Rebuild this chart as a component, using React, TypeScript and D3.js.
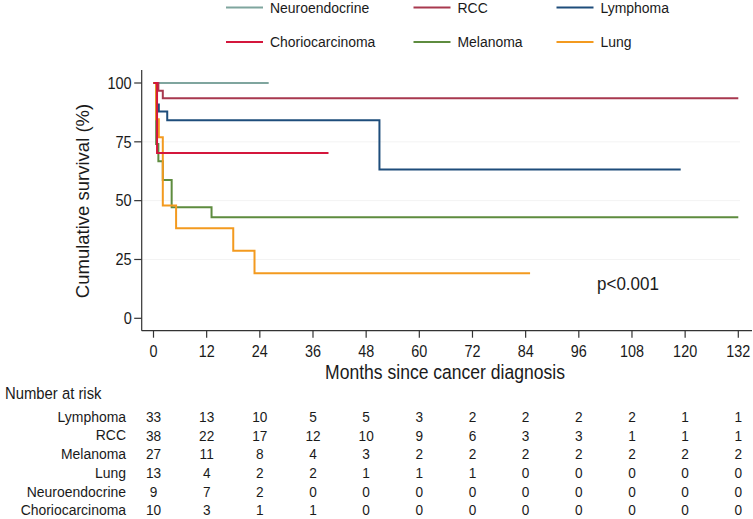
import React from "react";
import * as d3 from "d3";

const monthTicks = [0, 12, 24, 36, 48, 60, 72, 84, 96, 108, 120, 132];
const yTicks = [0, 25, 50, 75, 100];

const seriesNames = ["Neuroendocrine", "RCC", "Lymphoma", "Choriocarcinoma", "Melanoma", "Lung"];
const seriesColors = ["#7fa59e", "#a8384f", "#1e4d7b", "#d4163c", "#5e8c3f", "#f39a1f"];

const neuroTimes = [0];
const neuroSurv = [100];
const neuroEnd = 26;

const rccTimes = [0, 1.1, 2.1];
const rccSurv = [100, 96.7, 93.5];
const rccEnd = 132;

const lymphTimes = [0, 0.7, 1.2, 3.1, 51];
const lymphSurv = [100, 90.9, 87.9, 84.2, 63.2];
const lymphEnd = 119;

const chorioTimes = [0, 0.8];
const chorioSurv = [100, 70.2];
const chorioEnd = 39.5;

const melTimes = [0, 0.6, 1.1, 2.1, 4.1, 13.1];
const melSurv = [100, 74.1, 66.7, 58.8, 47.2, 42.9];
const melEnd = 132;

const lungTimes = [0, 0.6, 1.2, 2.1, 5.1, 18, 22.8];
const lungSurv = [100, 84.6, 76.9, 47.9, 38.3, 28.7, 19.1];
const lungEnd = 85;

const riskRows = ["Lymphoma", "RCC", "Melanoma", "Lung", "Neuroendocrine", "Choriocarcinoma"];
const riskLymphoma = [33, 13, 10, 5, 5, 3, 2, 2, 2, 2, 1, 1];
const riskRCC = [38, 22, 17, 12, 10, 9, 6, 3, 3, 1, 1, 1];
const riskMelanoma = [27, 11, 8, 4, 3, 2, 2, 2, 2, 2, 2, 2];
const riskLung = [13, 4, 2, 2, 1, 1, 1, 0, 0, 0, 0, 0];
const riskNeuro = [9, 7, 2, 0, 0, 0, 0, 0, 0, 0, 0, 0];
const riskChorio = [10, 3, 1, 1, 0, 0, 0, 0, 0, 0, 0, 0];

const FONT = "'Liberation Sans', Arial, Helvetica, sans-serif";
const TXT = "#1a1a1a";

export default function App() {
  const W = 753, H = 519;
  const x = d3.scaleLinear().domain([0, 132]).range([153.5, 738.3]);
  const y = d3.scaleLinear().domain([0, 100]).range([318.3, 83]);
  const axisX = 141.7;
  const axisY = 330.7;

  const curves = [
    { name: "Neuroendocrine", t: neuroTimes, s: neuroSurv, end: neuroEnd, c: seriesColors[0] },
    { name: "RCC", t: rccTimes, s: rccSurv, end: rccEnd, c: seriesColors[1] },
    { name: "Lymphoma", t: lymphTimes, s: lymphSurv, end: lymphEnd, c: seriesColors[2] },
    { name: "Melanoma", t: melTimes, s: melSurv, end: melEnd, c: seriesColors[4] },
    { name: "Lung", t: lungTimes, s: lungSurv, end: lungEnd, c: seriesColors[5] },
    { name: "Choriocarcinoma", t: chorioTimes, s: chorioSurv, end: chorioEnd, c: seriesColors[3] },
  ];

  const line = d3
    .line<[number, number]>()
    .x((d) => x(d[0]))
    .y((d) => y(d[1]))
    .curve(d3.curveStepAfter);

  const riskData = [riskLymphoma, riskRCC, riskMelanoma, riskLung, riskNeuro, riskChorio];

  const legendCols = [226, 413.5, 556.5];
  const legendRows = [7.5, 42];

  const sx = 0.88;
  const txt = (
    key: string,
    tx: number,
    ty: number,
    s: string,
    size: number,
    anchor: "start" | "middle" | "end",
    scale = sx
  ) => (
    <text
      key={key}
      transform={`translate(${tx},${ty}) scale(${scale},1)`}
      fontSize={size}
      textAnchor={anchor}
      dominantBaseline="central"
      fill={TXT}
      fontFamily={FONT}
    >
      {s}
    </text>
  );

  return (
    <svg
      width={W}
      height={H}
      style={{ position: "absolute", left: 0, top: 0, background: "#fff" }}
    >
      <rect width={W} height={H} fill="#fff" />
      {/* faint grid */}
      {yTicks.slice(1, 4).map((v) => (
        <line key={"g" + v} x1={axisX} x2={740} y1={y(v)} y2={y(v)} stroke="#f3f3f3" strokeWidth={1} />
      ))}

      {/* legend */}
      {seriesNames.map((n, i) => {
        const col = legendCols[i % 3];
        const row = legendRows[Math.floor(i / 3)];
        return (
          <g key={"lg" + n}>
            <line x1={col} x2={col + 37} y1={row} y2={row} stroke={seriesColors[i]} strokeWidth={2} />
            {txt("lt" + n, col + 44, row, n, 15.5, "start", 0.9)}
          </g>
        );
      })}

      {/* curves */}
      {curves.map((cv) => {
        const pts: [number, number][] = cv.t.map((t, i) => [t, cv.s[i]] as [number, number]);
        pts.push([cv.end, cv.s[cv.s.length - 1]]);
        return (
          <path key={"c" + cv.name} d={line(pts) || ""} fill="none" stroke={cv.c} strokeWidth={2} />
        );
      })}

      {/* y axis */}
      <line x1={axisX} x2={axisX} y1={70} y2={axisY} stroke="#333" strokeWidth={1.2} />
      {yTicks.map((v) => (
        <g key={"yt" + v}>
          <line x1={axisX - 7.5} x2={axisX} y1={y(v)} y2={y(v)} stroke="#333" strokeWidth={1.2} />
          {txt("ytl" + v, axisX - 10, y(v), String(v), 16.5, "end")}
        </g>
      ))}
      <text
        transform={`translate(82,201) rotate(-90)`}
        fontSize={18.5}
        textAnchor="middle"
        dominantBaseline="central"
        fill={TXT}
        fontFamily={FONT}
      >
        Cumulative survival (%)
      </text>

      {/* x axis */}
      <line x1={axisX} x2={752} y1={axisY} y2={axisY} stroke="#333" strokeWidth={1.2} />
      {monthTicks.map((m) => (
        <g key={"xt" + m}>
          <line x1={x(m)} x2={x(m)} y1={axisY} y2={axisY + 7} stroke="#333" strokeWidth={1.2} />
          {txt("xtl" + m, x(m), 351.5, String(m), 16, "middle", 0.9)}
        </g>
      ))}
      {txt("xtitle", 445, 372, "Months since cancer diagnosis", 19.5, "middle", 0.9)}

      {txt("pval", 597, 284, "p<0.001", 18.5, "start", 0.92)}

      {/* risk table */}
      {txt("nar", 5, 393, "Number at risk", 16.5, "start", 0.9)}
      {riskRows.map((r, ri) => {
        const ry = 416.5 + ri * 18.7;
        return (
          <g key={"rr" + r}>
            {txt("rl" + r, 126, ry, r, 15.5, "end", 0.9)}
            {riskData[ri].map((v, ci) => txt("rv" + r + ci, x(monthTicks[ci]), ry, String(v), 15.5, "middle"))}
          </g>
        );
      })}
    </svg>
  );
}
